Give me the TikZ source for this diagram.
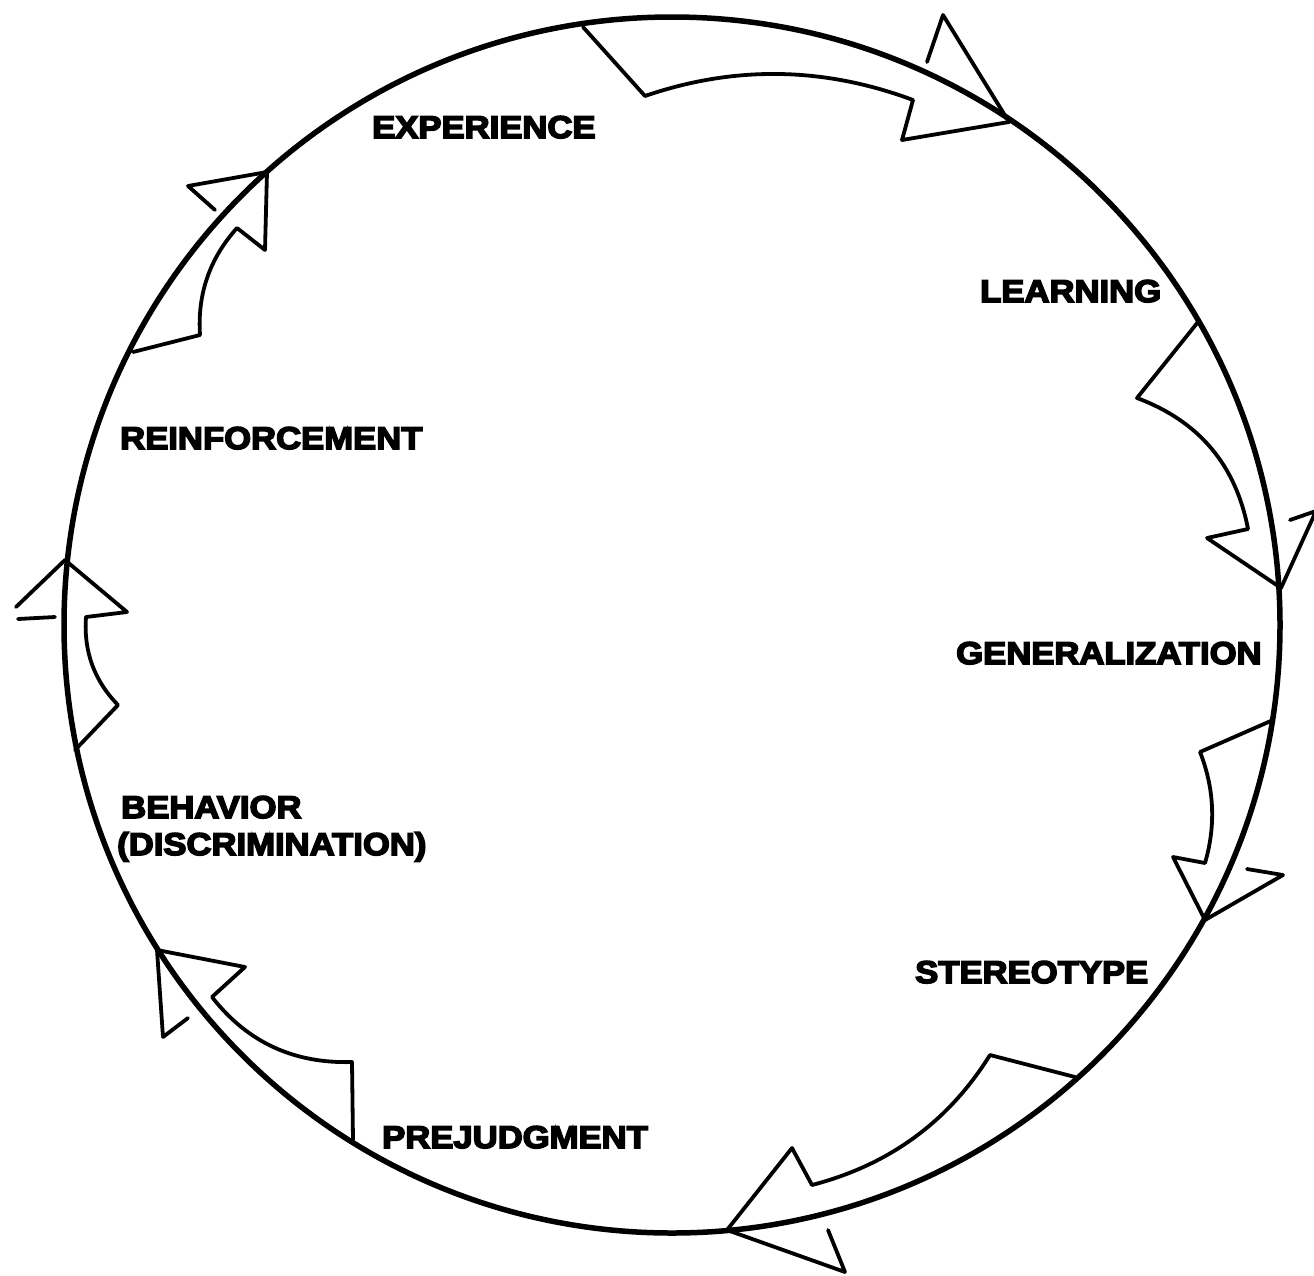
\documentclass[tikz,border=0pt]{standalone}
\usepackage{fontspec}
\newfontfamily\labfont{Liberation Sans}[FakeStretch=1.1,FakeBold=5]
\begin{document}
\begin{tikzpicture}[x=1pt,y=-1pt,
  ring/.style={line width=5.5pt},
  arrowline/.style={line width=3.8pt, line join=round, line cap=round},
  lab/.style={anchor=base west, inner sep=0pt, font=\labfont\bfseries\fontsize{31.5}{37}\selectfont}]
\useasboundingbox (0,0) rectangle (1314,1275);
\coordinate (O) at (672,625);
\draw[ring] (O) circle (608pt);
% EXPERIENCE -> LEARNING
\draw[arrowline] (583,27) -- (645,96) .. controls (734.3,65.3) and (823.7,66.7) .. (913,100) -- (902,140) -- (1009,122);
\draw[arrowline] (1009,122) -- (943,15) -- (927,62);
% LEARNING -> GENERALIZATION
\draw[arrowline] (1198,322) -- (1137,398) .. controls (1198.7,421) and (1235.7,464.7) .. (1248,529) -- (1207,538) -- (1281,588);
\draw[arrowline] (1281,588) -- (1316,511) -- (1290,520);
% GENERALIZATION -> STEREOTYPE
\draw[arrowline] (1273,720) -- (1200,752) .. controls (1214.3,788.3) and (1216,825.3) .. (1205,863) -- (1173,857) -- (1205,920);
\draw[arrowline] (1205,920) -- (1283,875) -- (1247,869);
% STEREOTYPE -> PREJUDGMENT
\draw[arrowline] (1075,1077) -- (990,1055) .. controls (948,1122.3) and (888.7,1165) .. (812,1185) -- (792,1148) -- (727,1230);
\draw[arrowline] (727,1230) -- (845,1272) -- (828,1230);
% PREJUDGMENT -> BEHAVIOR
\draw[arrowline] (353,1140) -- (352,1062) .. controls (294.4,1063.7) and (247.7,1042.7) .. (212,997) -- (245,967) -- (157,950);
\draw[arrowline] (157,950) -- (163,1037) -- (188,1018);
% BEHAVIOR -> REINFORCEMENT
\draw[arrowline] (75,750) -- (118,705) .. controls (94.1,680.5) and (83.5,651.1) .. (86,617) -- (127,612) -- (65,560);
\draw[arrowline] (65,560) -- (16,607);
\draw[arrowline] (18,619) -- (55,617);
% REINFORCEMENT -> EXPERIENCE
\draw[arrowline] (133,352) -- (200,335) .. controls (197.3,294.1) and (209.6,258.5) .. (237,228) -- (265,250) -- (267,172);
\draw[arrowline] (267,172) -- (188,186) -- (215,210);
% labels
\node[lab] (exp) at (372,138) {EXPERIENCE};
\node[lab] (learn) at (980,302) {LEARNING};
\node[lab] (reinf) at (120,449) {REINFORCEMENT};
\node[lab] (gen) at (956,664) {GENERALIZATION};
\node[lab] (beh) at (121,818) {BEHAVIOR};
\node[lab] (disc) at (117,855) {(DISCRIMINATION)};
\node[lab] (ster) at (915,983) {STEREOTYPE};
\node[lab] (prej) at (382,1148) {PREJUDGMENT};
\end{tikzpicture}
\end{document}
